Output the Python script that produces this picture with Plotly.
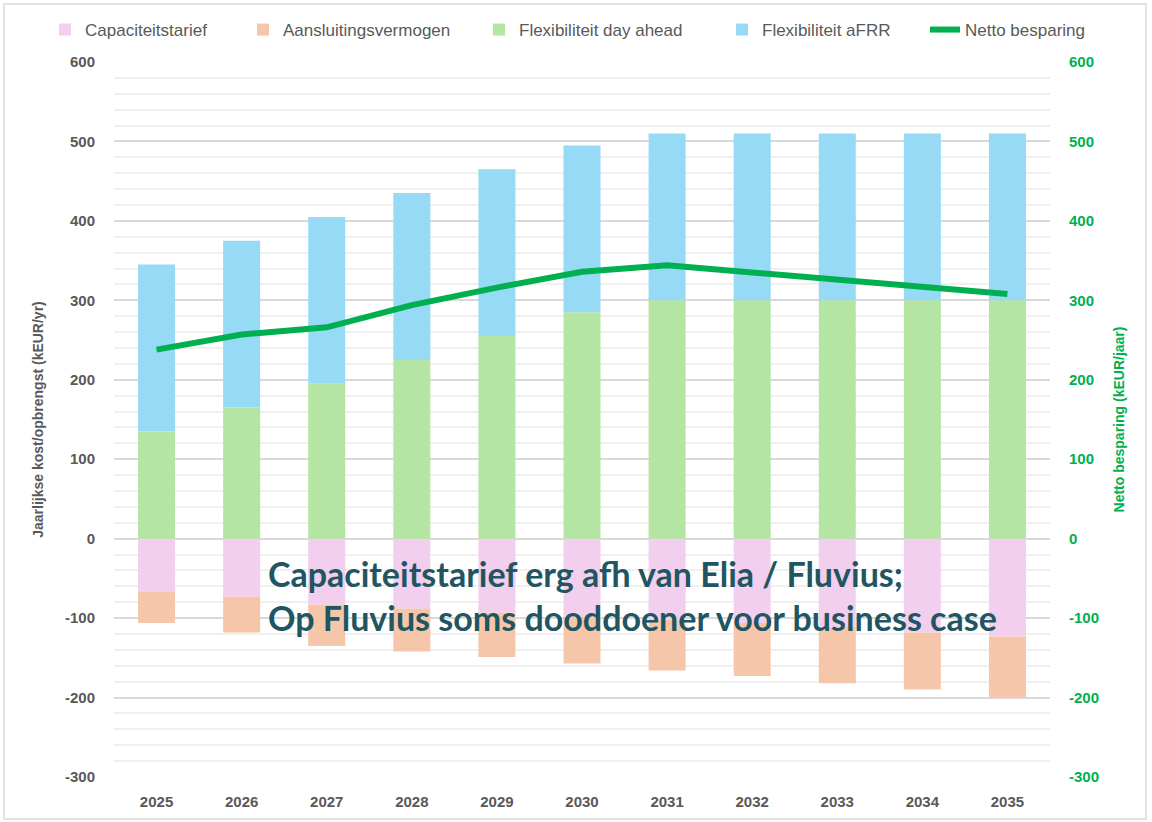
import plotly.graph_objects as go

years = ["2025", "2026", "2027", "2028", "2029", "2030", "2031", "2032", "2033", "2034", "2035"]
capaciteitstarief = [-67, -73, -83, -88, -93, -98, -102, -106, -111, -118, -123]
aansluitingsvermogen = [-39, -45, -52, -54, -56, -59, -64, -67, -71, -72, -77]
flex_day_ahead = [135, 165, 195, 225, 255, 285, 300, 300, 300, 300, 300]
flex_afrr = [210, 210, 210, 210, 210, 210, 210, 210, 210, 210, 210]
netto_besparing = [238, 257, 266, 294, 316, 336, 344, 335, 326, 317, 308]
y_ticks = [-300, -200, -100, 0, 100, 200, 300, 400, 500, 600]
y_ticktext = ["-300", "-200", "-100", "0", "100", "200", "300", "400", "500", "600"]

W, H = 1152, 822
ML, MR, MT, MB = 114, 102, 62, 45
PW, PH = W - ML - MR, H - MT - MB

def px(x):
    return (x - ML) / PW

def py(y):
    return (H - MB - y) / PH

gray = "#595959"
green_line = "#00B050"
font_fam = "Liberation Sans, Arial, sans-serif"

fig = go.Figure()
bw = 0.435
fig.add_trace(go.Bar(x=years, y=capaciteitstarief, name="Capaciteitstarief", legend="legend",
                     marker=dict(color="#F2CEEF", line=dict(width=0)), width=bw))
fig.add_trace(go.Bar(x=years, y=aansluitingsvermogen, name="Aansluitingsvermogen", legend="legend2",
                     marker=dict(color="#F6C6AA", line=dict(width=0)), width=bw))
fig.add_trace(go.Bar(x=years, y=flex_day_ahead, name="Flexibiliteit day ahead", legend="legend3",
                     marker=dict(color="#B5E5A3", line=dict(width=0)), width=bw))
fig.add_trace(go.Bar(x=years, y=flex_afrr, name="Flexibiliteit aFRR", legend="legend4",
                     marker=dict(color="#97DAF6", line=dict(width=0)), width=bw))
fig.add_trace(go.Scatter(x=years, y=netto_besparing, name="Netto besparing", yaxis="y2", legend="legend5",
                         mode="lines", line=dict(color=green_line, width=6, shape="linear")))

def leg(xpix):
    return dict(orientation="h", x=px(xpix), xanchor="left", y=py(30), yanchor="middle",
                font=dict(size=17, color=gray, family=font_fam), bgcolor="rgba(0,0,0,0)",
                itemwidth=30)

fig.update_layout(
    width=W, height=H,
    margin=dict(l=ML, r=MR, t=MT, b=MB),
    paper_bgcolor="white", plot_bgcolor="white",
    barmode="relative",
    font=dict(family=font_fam, color=gray, size=15),
    legend=leg(45),
    legend2=leg(243),
    legend3=leg(479),
    legend4=leg(722),
    legend5=leg(925),
    xaxis=dict(type="category", showgrid=False, zeroline=False, showline=False,
               ticks="", tickfont=dict(size=15, color=gray, family=font_fam, weight="bold"),
               ticklabelstandoff=14),
    yaxis=dict(range=[-300, 600], tickvals=y_ticks, ticktext=y_ticktext,
               showgrid=True, gridcolor="#D9D9D9", gridwidth=1.5,
               zeroline=False, showline=False, ticks="",
               tickfont=dict(size=15, color=gray, weight="bold"),
               minor=dict(dtick=20, showgrid=True, gridcolor="#F0F0F0", gridwidth=1.5),
               title=dict(text="Jaarlijkse kost/opbrengst (kEUR/yr)",
                          font=dict(size=14, color=gray, weight="bold"), standoff=18),
               ticklabelstandoff=18),
    yaxis2=dict(range=[-300, 600], tickvals=y_ticks, ticktext=y_ticktext,
                overlaying="y", side="right", showgrid=False,
                zeroline=False, showline=False, ticks="",
                tickfont=dict(size=15, color=green_line, weight="bold"),
                title=dict(text="Netto besparing (kEUR/jaar)",
                           font=dict(size=14, color=green_line, weight="bold"), standoff=16),
                ticklabelstandoff=18),
    showlegend=True,
)

ann_font = dict(family="Lato, Open Sans, sans-serif", size=34, color="#215561", weight="bold")
fig.add_annotation(text="Capaciteitstarief erg afh van Elia / Fluvius;<br>Op Fluvius soms dooddoener voor business case",
                   xref="paper", yref="paper", x=px(266), y=py(595), xanchor="left", yanchor="middle",
                   showarrow=False, align="left", font=ann_font)

fig.add_shape(type="rect", xref="paper", yref="paper",
              x0=px(4), x1=px(1146), y0=py(819), y1=py(4),
              line=dict(color="#D9D9D9", width=1.5), fillcolor="rgba(0,0,0,0)", layer="below")

fig.write_html("out.html", post_script="document.body.style.margin='0';",
               config={"displayModeBar": False})
